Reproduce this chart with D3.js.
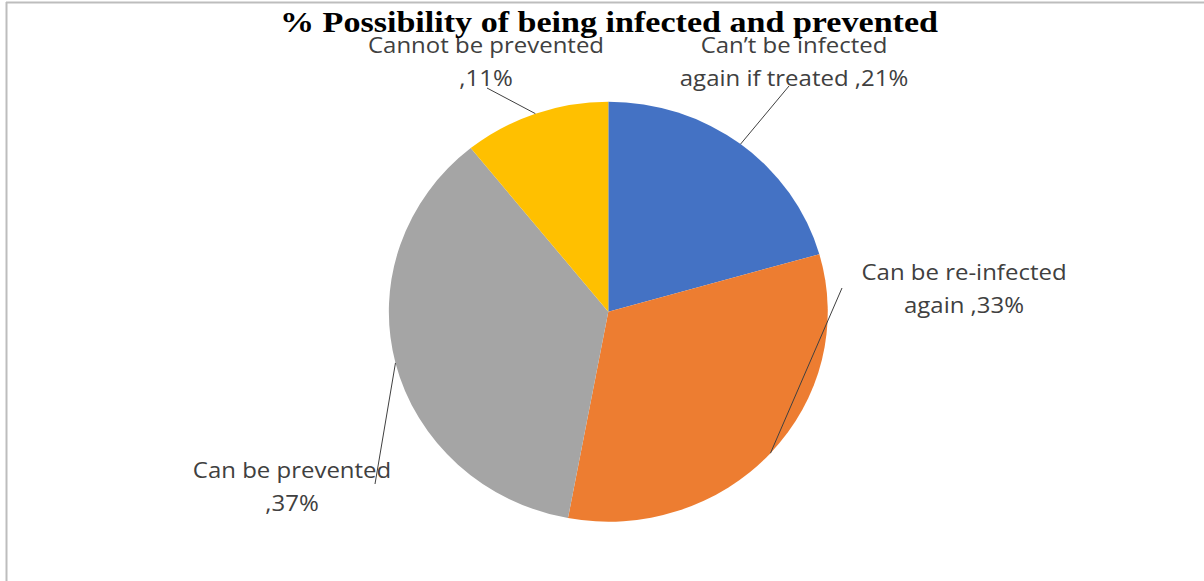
<!DOCTYPE html>
<html>
<head>
<meta charset="utf-8">
<script src="https://cdn.jsdelivr.net/npm/d3@7"></script>
<style>
  html, body { margin: 0; padding: 0; background: #fff; }
  svg { display: block; }
</style>
</head>
<body>
<svg id="chart" width="1204" height="581"></svg>
<script>
// Survey answers (percent of respondents)
const categories = [
  "Can't be infected again if treated",
  "Can be re-infected again",
  "Can be prevented",
  "Cannot be prevented"
];
const values = [21, 33, 37, 11];
const colors = ["#4472C4", "#ED7D31", "#A5A5A5", "#FFC000"];

// Label text, split over two lines
const labelLines = [
  ["Can\u2019t be infected", "again if treated ,21%"],
  ["Can be re-infected", "again ,33%"],
  ["Can be prevented", ",37%"],
  ["Cannot be prevented", ",11%"]
];

const titleText = "% Possibility of being infected and prevented";

// Layout
const W = 1204, H = 581;
const cx = 608.3, cy = 311.7;
const r = 210, sx = 1.045;          // pie is stretched slightly horizontally
const textStretch = 1.09;           // labels are drawn a little wide as well
const labelPos = [                  // centre of each label block, leader end
  { x: 794, y: 45, lx: 789, ly: 86 },
  { x: 964, y: 272, lx: 842, ly: 288 },
  { x: 292, y: 470, lx: 375, ly: 484 },
  { x: 486, y: 45, lx: 487, ly: 88 }
];
const lineGap = 33;

const svg = d3.select("#chart");

// Frame lines
svg.append("line").attr("x1", 6).attr("x2", W).attr("y1", 2.5).attr("y2", 2.5)
  .attr("stroke", "#bdbdbd").attr("stroke-width", 2);
svg.append("line").attr("x1", 6.5).attr("x2", 6.5).attr("y1", 2).attr("y2", H)
  .attr("stroke", "#bdbdbd").attr("stroke-width", 2);

const pie = d3.pie().sort(null).value(d => d);
const arcs = pie(values);
const arc = d3.arc().innerRadius(0).outerRadius(r);

const g = svg.append("g")
  .attr("transform", `translate(${cx},${cy}) scale(${sx},1)`);

g.selectAll("path.slice")
  .data(arcs)
  .join("path")
  .attr("class", "slice")
  .attr("d", arc)
  .attr("fill", (d, i) => colors[i]);

// Leader lines from the middle of each slice's rim to its label
svg.selectAll("line.leader")
  .data(arcs)
  .join("line")
  .attr("class", "leader")
  .attr("x1", d => cx + r * sx * Math.sin((d.startAngle + d.endAngle) / 2))
  .attr("y1", d => cy - r * Math.cos((d.startAngle + d.endAngle) / 2))
  .attr("x2", (d, i) => labelPos[i].lx)
  .attr("y2", (d, i) => labelPos[i].ly)
  .attr("stroke", "#404040")
  .attr("stroke-width", 1);

// Data labels
const lbl = svg.selectAll("text.lbl")
  .data(labelLines)
  .join("text")
  .attr("class", "lbl")
  .attr("transform", (d, i) => `translate(${labelPos[i].x},${labelPos[i].y}) scale(${textStretch},1)`)
  .attr("text-anchor", "middle")
  .attr("font-family", "'Open Sans', sans-serif")
  .attr("font-size", 22)
  .attr("fill", "#404040");

lbl.selectAll("tspan")
  .data(d => d.map((t, k) => ({ t, k })))
  .join("tspan")
  .attr("x", 0)
  .attr("y", d => d.k * lineGap)
  .attr("dy", "0.35em")
  .text(d => d.t);

// Title
svg.append("text")
  .attr("x", 609)
  .attr("y", 32)
  .attr("text-anchor", "middle")
  .attr("font-family", "'Liberation Serif', 'Times New Roman', serif")
  .attr("font-weight", "bold")
  .attr("font-size", 29)
  .attr("textLength", 658)
  .attr("lengthAdjust", "spacingAndGlyphs")
  .attr("fill", "#000")
  .text(titleText);
</script>
</body>
</html>
